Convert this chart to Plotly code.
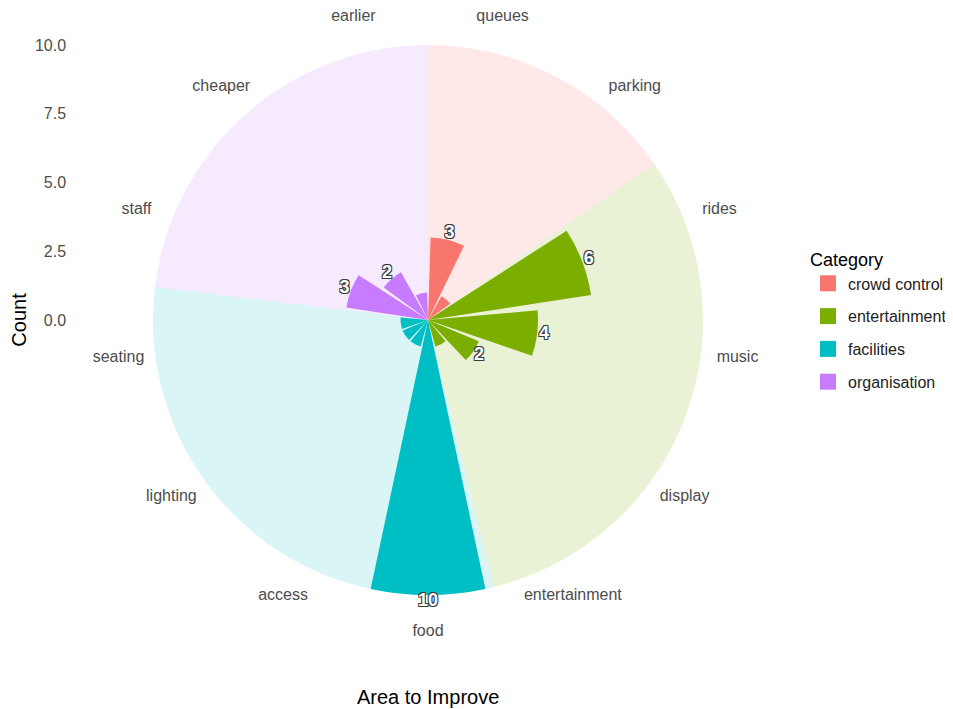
import plotly.graph_objects as go

areas = ["queues", "parking", "rides", "music", "display", "entertainment",
         "food", "access", "lighting", "seating", "staff", "cheaper", "earlier"]
area_category = ["crowd control", "crowd control",
                 "entertainment", "entertainment", "entertainment", "entertainment",
                 "facilities", "facilities", "facilities", "facilities",
                 "organisation", "organisation", "organisation"]
counts = [3, 1, 6, 4, 2, 1, 10, 1, 1, 1, 3, 2, 1]
category_names = ["crowd control", "entertainment", "facilities", "organisation"]
radial_ticks = [0, 2.5, 5, 7.5, 10]
radial_tick_labels = ["0.0", "2.5", "5.0", "7.5", "10.0"]

colors = {"crowd control": "#F8766D", "entertainment": "#7CAE00",
          "facilities": "#00BFC4", "organisation": "#C77CFF"}
light = {"crowd control": "rgba(248,118,109,0.16)", "entertainment": "rgba(124,174,0,0.16)",
         "facilities": "rgba(0,191,196,0.15)", "organisation": "rgba(199,124,255,0.16)"}

W, H = 953, 709
OFF = 8                        # page body margin offset
cx, cy = 428 - OFF, 320 - OFF  # circle centre in figure px
R10 = 275                      # pixel radius of count = 10
RMAX = 11.35                   # radial range leaving room for the labels

n = len(areas)
slot = 360.0 / n
theta = [(i + 0.5) * slot for i in range(n)]
rmax = 10

fig = go.Figure()

for cat in category_names:
    idx = [i for i in range(n) if area_category[i] == cat]
    fig.add_trace(go.Barpolar(
        r=[rmax] * len(idx), theta=[theta[i] for i in idx], width=[slot] * len(idx),
        marker=dict(color=light[cat], line=dict(width=0)),
        showlegend=False, hoverinfo="skip"))

for cat in category_names:
    idx = [i for i in range(n) if area_category[i] == cat]
    fig.add_trace(go.Barpolar(
        r=[counts[i] for i in idx], theta=[theta[i] for i in idx], width=[slot * 0.87] * len(idx),
        marker=dict(color=colors[cat], line=dict(width=0)),
        name=cat, showlegend=False))

lab_idx = [i for i in range(n) if counts[i] > 1]
fig.add_trace(go.Scatterpolar(
    r=[counts[i] + 0.25 for i in lab_idx], theta=[theta[i] for i in lab_idx],
    text=[str(counts[i]) for i in lab_idx], mode="text", cliponaxis=False,
    textfont=dict(family="Liberation Sans", size=18, color="white", weight="bold",
                  shadow="-1px -1px 0 #3a3a3a, 1px -1px 0 #3a3a3a, -1px 1px 0 #3a3a3a, 1px 1px 0 #3a3a3a"),
    showlegend=False, hoverinfo="skip"))

fig.add_trace(go.Scatterpolar(
    r=[RMAX - 0.01] * n, theta=theta, text=areas, mode="text", cliponaxis=False,
    textfont=dict(family="Liberation Sans", size=16, color="#4d4d4d"),
    showlegend=False, hoverinfo="skip"))

for gi, cat in enumerate(category_names):
    fig.add_trace(go.Scatter(
        x=[None], y=[None], mode="markers", name=cat, legendgroup=f"g{gi}",
        marker=dict(symbol="square", size=16, color=colors[cat])))

Rt = R10 * RMAX / rmax
pol_x = [(cx - Rt) / W, (cx + Rt) / W]
pol_y = [max(0.0, 1 - (cy + Rt) / H), min(1.0, 1 - (cy - Rt) / H)]
ydom = [1 - (cy + R10) / H, 1 - (cy - R10) / H]

fig.update_layout(
    width=W, height=H,
    margin=dict(l=0, r=0, t=0, b=0, autoexpand=False),
    paper_bgcolor="white", plot_bgcolor="rgba(0,0,0,0)",
    font=dict(family="Liberation Sans", color="#4d4d4d"),
    polar=dict(
        domain=dict(x=pol_x, y=pol_y),
        bgcolor="rgba(0,0,0,0)", hole=0,
        radialaxis=dict(range=[0, RMAX], visible=False, showgrid=False),
        angularaxis=dict(rotation=90, direction="clockwise", showgrid=False,
                         showline=False, showticklabels=False, ticks=""),
        barmode="overlay",
    ),
    xaxis=dict(domain=[0.062, 0.065], visible=False, range=[0, 1]),
    yaxis=dict(domain=ydom, range=[-rmax, rmax], tickvals=radial_ticks,
               ticktext=radial_tick_labels, showgrid=False, zeroline=False,
               showline=False, ticks="", tickfont=dict(size=16, color="#4d4d4d"),
               title=dict(text="Count", font=dict(size=20, color="black"), standoff=14)),
    legend=dict(x=800 / W, y=1 - 235 / H, xanchor="left", yanchor="top",
                title=dict(text="Category", font=dict(size=18, color="black")),
                font=dict(size=16, color="#222"), traceorder="grouped",
                tracegroupgap=9, itemsizing="trace"),
    annotations=[dict(text="Area to Improve", x=cx / W, y=1 - (697 - OFF) / H,
                      xref="paper", yref="paper", showarrow=False,
                      xanchor="center", yanchor="middle",
                      font=dict(size=20, color="black"))],
)

fig.write_html("out.html")
